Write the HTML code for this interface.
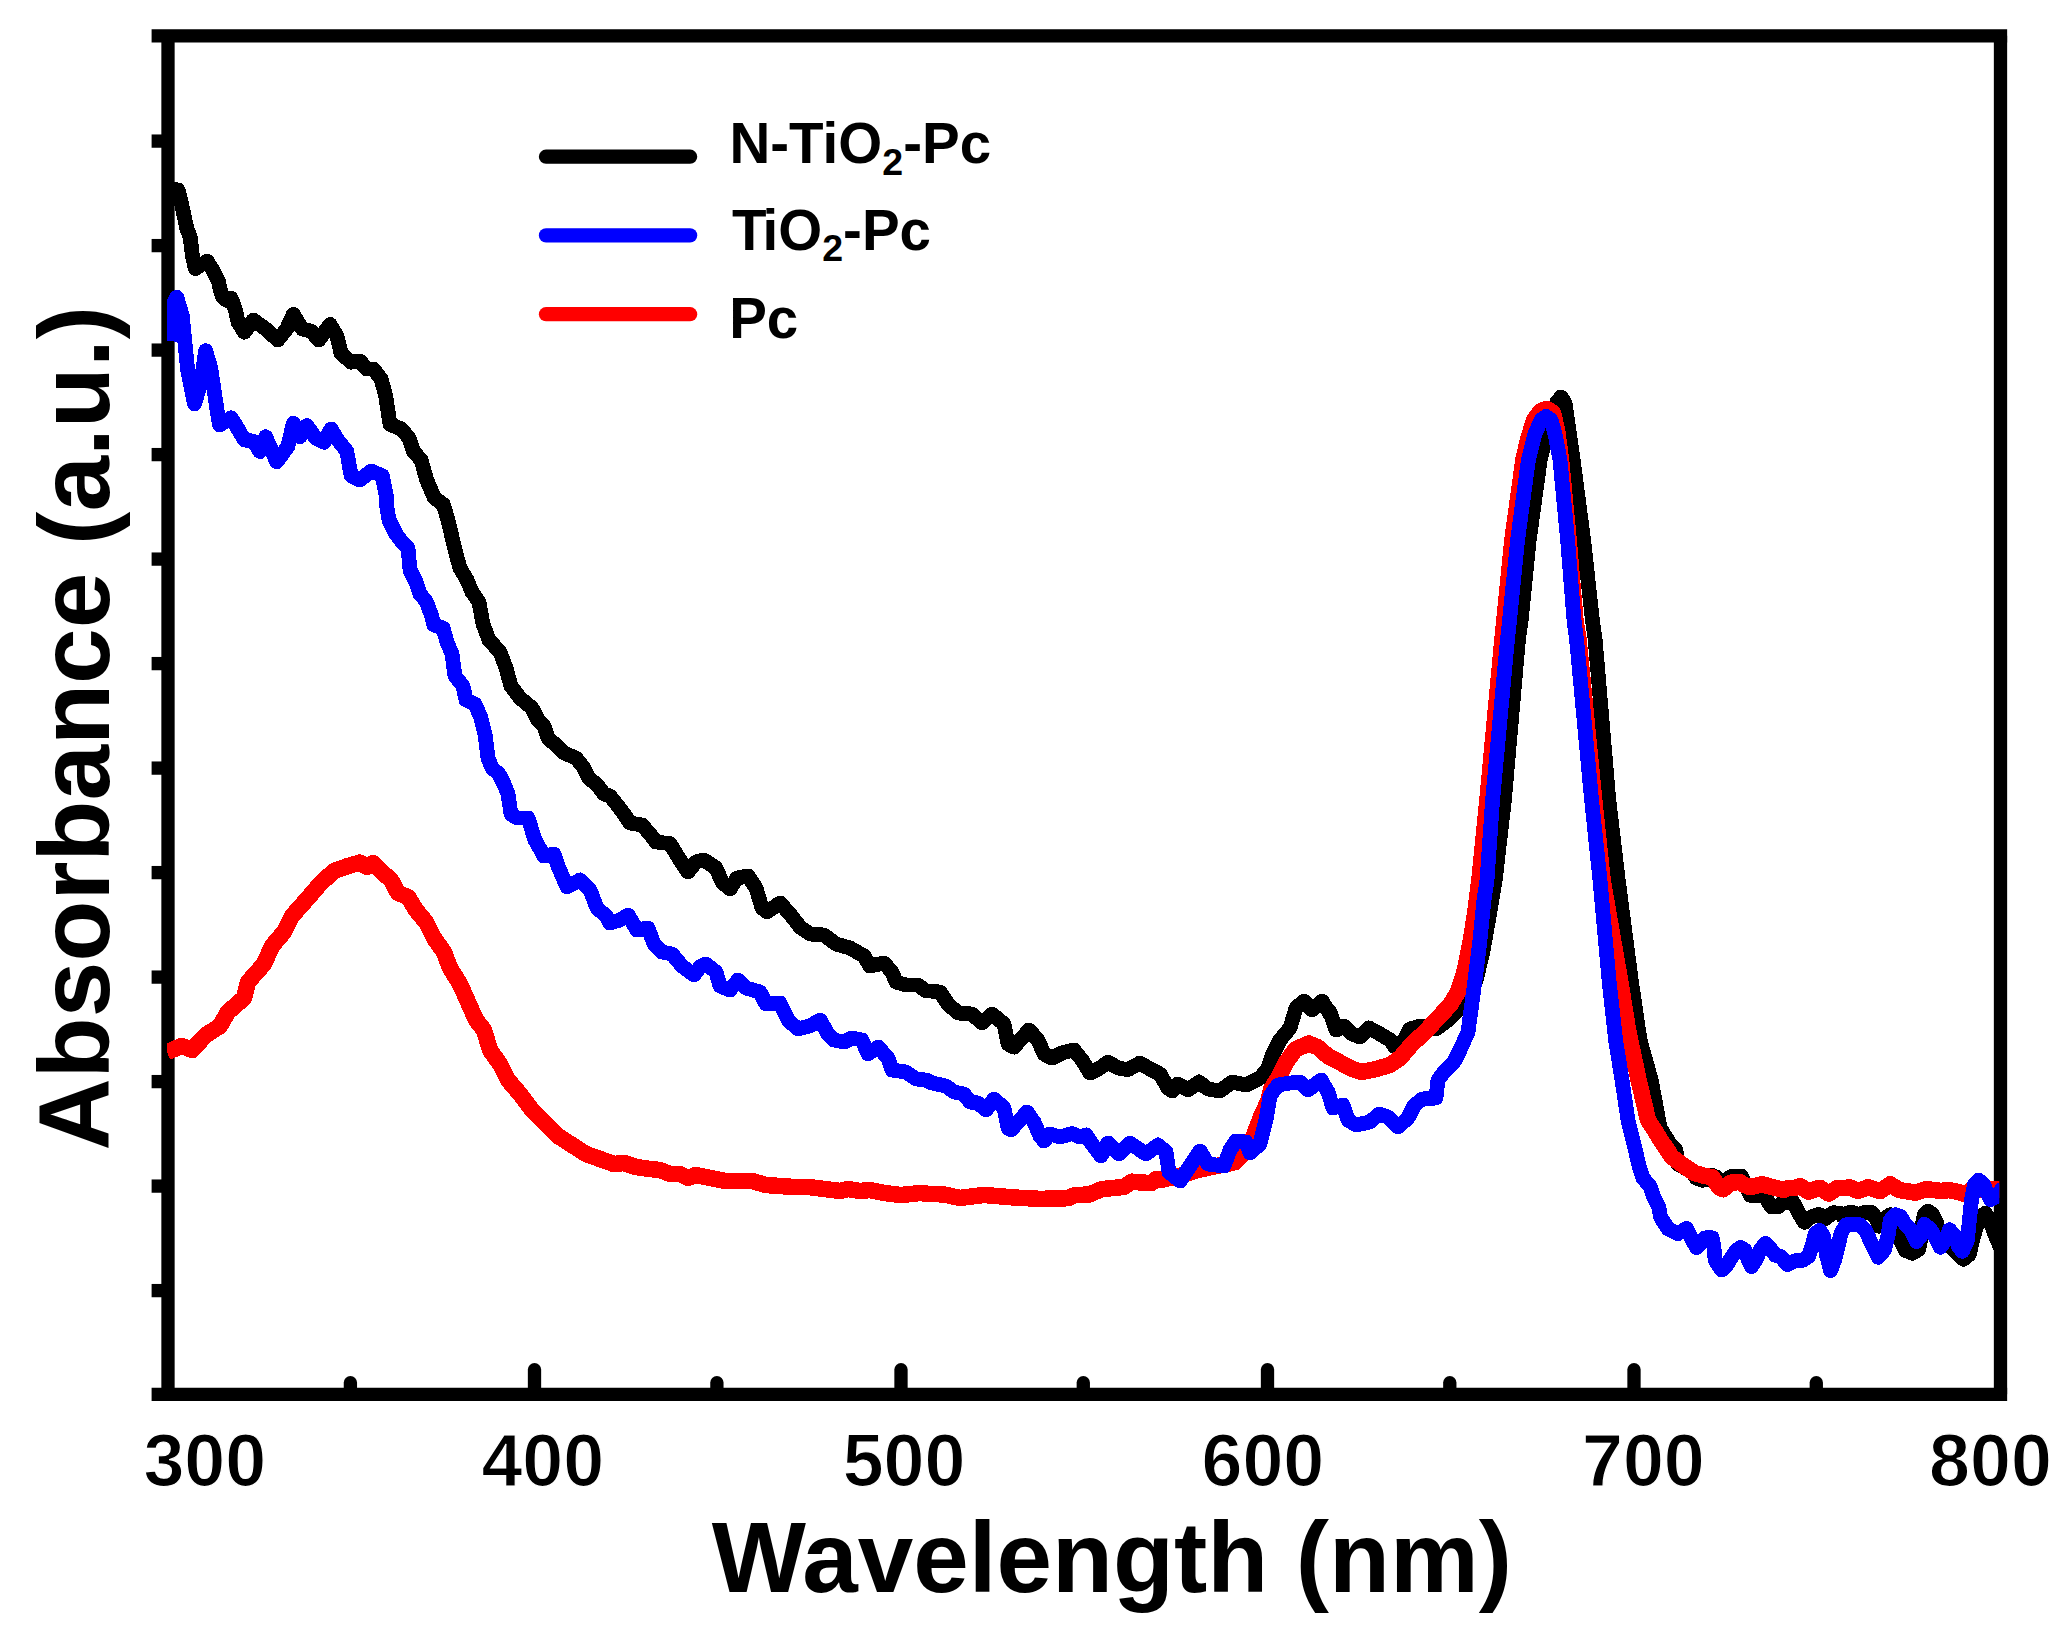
<!DOCTYPE html>
<html lang="en"><head><meta charset="utf-8"><title>Absorbance spectra</title>
<style>html,body{margin:0;padding:0;background:#fff}svg{display:block}</style></head>
<body>
<svg width="2070" height="1645" viewBox="0 0 2070 1645">
<rect x="0" y="0" width="2070" height="1645" fill="#fff"/>
<g stroke="#000" stroke-width="13.3" fill="none" stroke-linecap="butt">
<line x1="151.6" y1="35.8" x2="2007.15" y2="35.8"/>
<line x1="151.6" y1="1394.3" x2="2007.15" y2="1394.3"/>
<line x1="168.0" y1="35.8" x2="168.0" y2="1394.3"/>
<line x1="2000.5" y1="35.8" x2="2000.5" y2="1394.3"/>
<line x1="151.6" y1="141.1" x2="168.0" y2="141.1"/>
<line x1="151.6" y1="245.6" x2="168.0" y2="245.6"/>
<line x1="151.6" y1="350.1" x2="168.0" y2="350.1"/>
<line x1="151.6" y1="454.6" x2="168.0" y2="454.6"/>
<line x1="151.6" y1="559.1" x2="168.0" y2="559.1"/>
<line x1="151.6" y1="663.6" x2="168.0" y2="663.6"/>
<line x1="151.6" y1="768.1" x2="168.0" y2="768.1"/>
<line x1="151.6" y1="872.6" x2="168.0" y2="872.6"/>
<line x1="151.6" y1="977.1" x2="168.0" y2="977.1"/>
<line x1="151.6" y1="1081.6" x2="168.0" y2="1081.6"/>
<line x1="151.6" y1="1186.1" x2="168.0" y2="1186.1"/>
<line x1="151.6" y1="1290.6" x2="168.0" y2="1290.6"/>
</g>
<g stroke="#000" stroke-width="13.3" fill="none" stroke-linecap="round">
<line x1="350.4" y1="1394.3" x2="350.4" y2="1382.6"/>
<line x1="534.5" y1="1394.3" x2="534.5" y2="1369.6"/>
<line x1="716.9" y1="1394.3" x2="716.9" y2="1382.6"/>
<line x1="901.0" y1="1394.3" x2="901.0" y2="1369.6"/>
<line x1="1083.3" y1="1394.3" x2="1083.3" y2="1382.6"/>
<line x1="1267.5" y1="1394.3" x2="1267.5" y2="1369.6"/>
<line x1="1449.8" y1="1394.3" x2="1449.8" y2="1382.6"/>
<line x1="1634.0" y1="1394.3" x2="1634.0" y2="1369.6"/>
<line x1="1816.3" y1="1394.3" x2="1816.3" y2="1382.6"/>
</g>
<defs><clipPath id="pc"><rect x="167" y="42" width="1832.3" height="1346"/></clipPath></defs>
<g fill="none" stroke-linejoin="round" stroke-linecap="butt" clip-path="url(#pc)" shape-rendering="crispEdges">
<polyline stroke="#000" stroke-width="14.8" points="166,188.6 178,190 181.2,202 186.9,228.8 190.2,237 192.3,255.1 195.3,268.5 200.2,265.3 207.2,261.3 212.2,269 218.2,280.4 220.4,290 223,297.6 226.5,300.2 231.2,298.2 235.4,310 238,322 244.4,332.2 253.3,320 265.6,328.9 277.8,340 286.7,328.9 293.3,314.4 302.2,328.9 311.1,331.1 318.9,340 330,324.4 336.7,335.6 341.1,353.3 351.1,362.2 360,361.1 366.7,368.9 373.3,368.9 381.1,378.9 385.6,395.6 390,424.4 401.1,428.9 408.9,437.8 413.3,451.1 421.1,460 426.7,480 434.4,497.8 443.3,504.4 448,520 455,550 460,568 467,580 472,592 479,602 483,624 489,640 500,652 506,668 511,686 520,698 532,708 538,720 544,726 548,738 558,747 564,753 576,758 584,768 588,777 598,786 604,794 610,796 618,806 624,814 630,823 642,825 650,834 656,842 670,843.6 680,860 688,872 696,862 704,860 716,868 722,882 730,889 737,878 748,876 756,888 762,908 767,912 780,903 790,914 800,927 810,934 824,935 836,944 850,948 864,956 870,966 884,963 892,972 896,982 906,985 918,985 926,991 930,991 940,992 948,1004 958,1013 972,1014 982,1023 992,1014 1004,1024 1008,1044 1014,1047 1022,1038 1029,1030 1038,1040 1044,1054 1052,1058 1062,1053 1074,1050 1082,1060 1090,1073 1100,1068 1108,1062 1118,1068 1128,1069.6 1140,1063 1150,1069 1160,1074 1168,1088 1172,1091 1178,1084 1188,1090 1199,1082 1208,1089 1220,1091 1232,1082 1246,1085 1260,1078 1268,1068 1272,1056 1280,1040 1290,1028 1296,1008 1304,1001 1312,1010 1322,1001 1330,1014 1330,1012 1336,1030 1344,1026 1352,1034 1360,1037 1369,1028 1380,1034 1390,1040 1395,1047 1404,1040 1410,1029 1420,1026 1436,1029 1448,1020 1458,1010 1468,994 1476.2,980 1483.2,950 1490.2,910 1495.2,880 1504.4,800 1518.4,640 1521.2,620 1529.2,540 1540.2,460 1550,420 1557,402 1561,397 1565,403 1573.2,460 1583.6,540 1592.4,620 1595.2,640 1608.8,800 1618.2,880 1631.2,980 1640,1040 1651.2,1080 1660.1,1128 1665.8,1136.9 1669.8,1143.9 1675.8,1150 1677.4,1158.7 1678.2,1164.4 1685.1,1168.1 1691.3,1170.4 1696.2,1178.1 1702.2,1180.3 1709.2,1179.6 1711.7,1175.1 1716.2,1177.1 1721.2,1182.2 1727.3,1179.1 1732.3,1176 1741.3,1176 1744.3,1182.2 1747.8,1190.2 1750.3,1195.3 1759.4,1195.3 1765.4,1197.2 1771.4,1206.8 1778.4,1206.8 1782.4,1202.8 1793.5,1202.8 1798.5,1212.8 1804.5,1222.3 1810.5,1217.3 1817.5,1214.8 1820,1214.7 1825,1218.7 1833,1212.7 1840.1,1213.2 1843.1,1216.7 1848.1,1212.7 1854.1,1212.7 1859.1,1216.7 1863.1,1212.7 1872.2,1212.7 1877.2,1220.2 1879.2,1226.2 1884.2,1219.2 1890.2,1214.7 1896.2,1226.2 1900.2,1240.3 1905.3,1250.3 1912.3,1253.3 1918.8,1249.3 1920.8,1238.3 1922.3,1225.2 1924.3,1214.2 1927.8,1211.2 1932.3,1214.2 1936.3,1222.2 1939.4,1233.2 1944.4,1242.3 1949.4,1245.3 1955.4,1251.3 1963.4,1259.3 1969.4,1254.3 1972.5,1240.3 1976.5,1226.2 1981.5,1216.2 1985.5,1213.2 1989.5,1220.2 1994.5,1233.2 1999.5,1245.3 2003.6,1254.3"/>
<polyline stroke="#f00" stroke-width="16.5" points="167,1052 182,1046 192,1050 206,1035 220,1026 228,1012 244,998 248,982 264,964 272,946 284,932 292,916 308,898 320,884 334,871 348,866 360,862.6 367,867 373,863 382,872 391,880 398,893 408,897 416,910 426,922 434,938 444,952 450,968 460,984 468,1002 476,1020 484,1030 490,1050 500,1064 508,1080 520,1094 532,1110 546,1124 558,1136 572,1145 586,1154 600,1159 614,1164 624,1163 636,1167 650,1169 660,1170 670,1174 680,1174 688,1178 696,1175 710,1178 726,1181 740,1181 752,1181 766,1185 780,1186 794,1187 808,1187 824,1189 840,1191 848,1189 860,1191 870,1190 884,1193 900,1195 912,1194 920,1193 930,1194 944,1194.4 960,1198 984,1195 1016,1197.6 1040,1198.9 1068.5,1198.2 1074.5,1195.2 1089.5,1194.4 1101.6,1189.2 1124.1,1186.9 1131.6,1181.7 1151.1,1183.2 1155.6,1179.4 1163.1,1179.4 1180.4,1175.6 1199.2,1169.6 1218.7,1165.6 1235.2,1162.1 1244.2,1153.1 1250.2,1144.1 1253.4,1136.8 1260.9,1117.2 1268.4,1100.7 1271.4,1088.7 1278.9,1076.7 1286.2,1062.3 1295.3,1049.5 1308.8,1043.5 1317.8,1047.3 1328.1,1056.3 1345.4,1065.3 1352,1069 1362,1072 1376,1069 1390,1065 1400,1058 1412,1044 1424,1033 1438,1018 1450,1005 1458,992 1465,970 1471,940 1475.6,910 1479.4,880 1487.4,800 1502.4,640 1504.4,620 1512.4,540 1523.4,460 1528,440 1534,420 1541,411 1547,409 1553,413 1557,430 1561,460 1568.6,540 1575.4,620 1578.6,640 1594.2,800 1602.6,880 1620,980 1628,1030 1638.6,1080 1648,1120 1654.5,1130 1661.1,1141 1667.1,1149.6 1671.6,1156.6 1676.1,1160.1 1685.6,1167.1 1694.2,1172.9 1705.2,1176.1 1712.2,1177.1 1719.2,1187.4 1723.2,1189.2 1730.8,1182.7 1739.3,1182 1744.8,1185 1750.3,1187.2 1758.4,1185.2 1762.4,1184.2 1769.4,1186.4 1776.4,1188 1783.4,1190 1787.4,1188.2 1794.5,1188 1800.5,1186.2 1808.5,1191.7 1816.5,1188.7 1820,1187.9 1829,1193.6 1837.1,1188.1 1850.1,1187.6 1858.1,1190.9 1868.1,1187.3 1880.2,1191.1 1890.2,1184.3 1899.2,1190.1 1915.3,1192.6 1926.3,1189.1 1940.4,1190.9 1949.4,1190.1 1960.4,1192.6 1964.4,1194.1 1970.5,1190.6 1980.5,1190.1 1990.5,1189.6 2003.6,1189.6"/>
<polyline stroke="#00f" stroke-width="14.8" points="169.5,341 173.5,303 176.8,297.3 182.2,315.6 187.8,371.1 194.4,404 201.1,382.2 205.6,350.7 210.7,367.8 218.2,417.8 219.6,424.9 231.1,417.8 236.7,426.7 244.4,440 253.3,441.1 260,451.6 265.6,436.7 276.7,461.8 287.8,446.7 293.3,423.3 300,436.7 306.7,425.6 315.6,437.8 324.4,442.2 331.1,428.9 337.8,440 346.7,451.1 351.1,475.6 360,480 371.1,471.1 382.2,475.6 386.7,497.8 386,502 389,520 396,534 402,542 408,548 410,570 416,582 420,594 426,601 431,614 434,625 443,628 447,642 452,654 455,676 463,686 466,700 475,704 481,718 485,734 488,758 492,768 499,774 504,784 508,794 511,814 517,818 528,818 535,840 544,856 554,854 558,866 567,887 580,880 590,890 597,908 606,916 610,923 620,920 628,915 637,930 648,928 654,944 662,952 672,954 682,966 694,975 700,967 706,964 716,972 720,986 730,990 738,980 746,988 760,992 766,1004 780,1003 788,1020 798,1029 810,1026 820,1020 828,1034 834,1040 844,1042 852,1038 862,1040 868,1054 878,1047 888,1058 892,1070 906,1072 916,1079 926,1080 932,1083 946,1086 954,1092 964,1094 970,1102 978,1103 986,1110 994,1099 1004,1108 1008,1128 1011,1130 1020,1120 1027,1112 1034,1122 1040,1136 1044,1141 1050,1134 1060,1137 1072,1133.6 1080,1137 1086,1135 1092,1144 1101,1156 1108,1143 1119,1154 1130,1143 1140,1150 1146,1154 1158,1145 1166,1152 1169,1172 1180,1181 1190,1166 1200,1151 1208,1164 1224,1166 1230,1150 1236,1141 1246,1142 1250,1153 1260,1144 1266,1120 1270,1096 1278,1085 1290,1083 1300,1082 1308,1090 1321,1080 1328,1092 1333,1108 1343,1105 1348,1120 1356,1125 1370,1122 1379,1114 1388,1117 1398,1127 1408,1118 1414,1106 1422,1099 1436,1098 1438,1080 1444,1072 1454,1062 1460,1050 1468,1032 1471,1010 1475,980 1480,940 1484,900 1487,880 1492.6,800 1507.4,640 1509.6,620 1517.6,540 1528.4,460 1535,434 1541,420 1546,416.4 1551,420 1555,434 1560,460 1567.6,540 1574,620 1576.6,640 1591.6,800 1600,880 1609,980 1615.6,1040 1622,1080 1628,1120 1633,1140 1638.8,1164.8 1642.8,1177.8 1650,1186.2 1653.5,1196.2 1658.6,1206.2 1660.6,1217.3 1668.1,1228.8 1677.6,1233.8 1686.6,1228.3 1692.2,1240.3 1696.7,1247.6 1705.2,1237.8 1712.2,1237.8 1713.7,1245.3 1715.2,1260.4 1721.7,1270 1727.3,1264.4 1730.3,1259.4 1736.3,1250.4 1740.8,1247.4 1745.3,1250.4 1748.3,1260.4 1751.3,1266.5 1756.3,1259.4 1760.4,1249.4 1765.4,1243.5 1770.4,1248.4 1775.4,1255.4 1780.4,1256.4 1787.4,1264.5 1794.5,1260.9 1802.5,1260.4 1808.5,1256.4 1812.5,1244.3 1815.5,1233.3 1819.5,1230.3 1823.6,1236.3 1826.6,1255.4 1830.6,1270.5 1834.5,1260.3 1837.1,1250.3 1841.1,1233.2 1846.1,1224.7 1853.1,1224.2 1860.1,1224.7 1866.1,1231.2 1872.2,1245.3 1878.2,1257.3 1884.2,1250.3 1888.2,1235.3 1890.2,1220.2 1895.2,1214.7 1900.2,1216.2 1905.3,1224.2 1910.3,1229.2 1916.3,1241.5 1921.3,1235.3 1924.3,1224.2 1930.3,1229.2 1935.3,1237.3 1940.4,1247.3 1945.4,1240.3 1949.4,1229.7 1954.4,1235.3 1958.4,1246.3 1962.4,1251.3 1967.4,1240.3 1969.4,1220.2 1971.5,1200.2 1974.5,1184.1 1978.5,1180.1 1983.5,1184.1 1986.5,1192.1 1990.5,1199.6 1995.5,1197.1 1999.5,1192.1 2003.6,1187.1"/>
</g>
<g fill="none" stroke-linecap="round" stroke-width="14.3">
<line stroke="#000" x1="546.0" y1="156.7" x2="690.1" y2="156.7"/>
<line stroke="#00f" x1="546.0" y1="235.4" x2="690.1" y2="235.4"/>
<line stroke="#f00" x1="546.0" y1="314.2" x2="690.1" y2="314.2"/>
</g>
<g font-family="'Liberation Sans', Arial, sans-serif" font-weight="bold" fill="#000" font-size="56.5">
<text x="729.5" y="163.4">N-TiO<tspan font-size="37.5" dy="11.2">2</tspan><tspan dy="-11.2">-Pc</tspan></text>
<text x="732" y="249.7">T<tspan dx="-2.9">iO</tspan><tspan font-size="37.5" dy="11.4">2</tspan><tspan dy="-11.4">-Pc</tspan></text>
<text x="729.2" y="338">Pc</text>
</g>
<g font-family="'Liberation Sans', Arial, sans-serif" font-weight="bold" fill="#000" font-size="73.6" stroke="#fff" stroke-width="1.2" paint-order="fill stroke">
<text x="143.4" y="1485.6">300</text>
<text x="481.4" y="1485.6">400</text>
<text x="842.7" y="1485.6">500</text>
<text x="1201.5" y="1485.6">600</text>
<text x="1582" y="1485.6">700</text>
<text x="1929.1" y="1485.6">800</text>
</g>
<text font-family="'Liberation Sans', Arial, sans-serif" font-weight="bold" fill="#000" font-size="99.8" x="711.8" y="1592">Wavelength (nm)</text>
<text font-family="'Liberation Sans', Arial, sans-serif" font-weight="bold" fill="#000" font-size="100" transform="translate(108.5 1150.6) rotate(-90)" x="0" y="0">Absorbance (a.u.)</text>
</svg>
</body></html>
